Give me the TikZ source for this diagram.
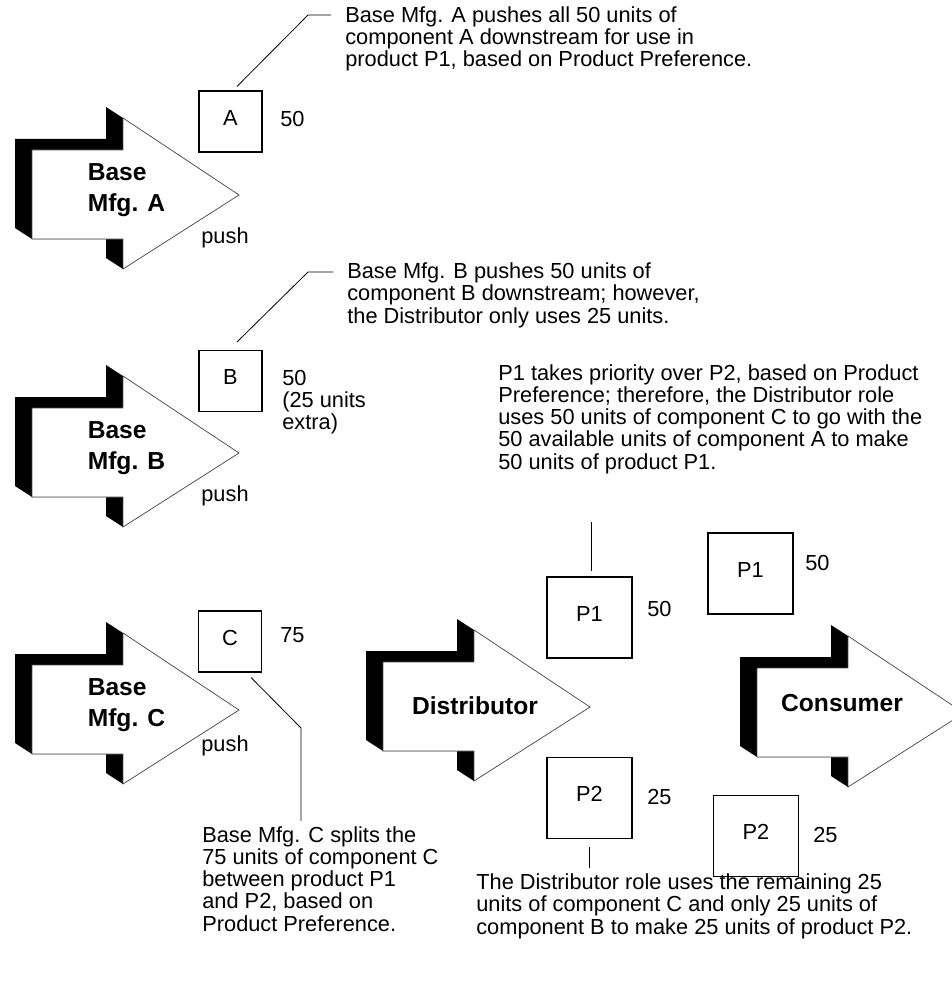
\documentclass[tikz,border=0pt]{standalone}
\usepackage{fontspec}
\setmainfont{Liberation Sans}
\usetikzlibrary{calc,positioning}

\tikzset{
  % block arrow with a solid black extrusion to the upper left
  role/.pic={
    \fill[black] (0,89) -- (-17,78) -- (-17,-11) -- (74,-11) -- (74,-43)
      -- (91,-32) -- (207,45) -- (91,119) -- (74,108) -- (74,89) -- cycle;
    \filldraw[fill=white, draw=black!70, line width=0.4pt]
      (0,0) -- (91,0) -- (91,-32) -- (207,45) -- (91,119) -- (91,89) -- (0,89) -- cycle;
  },
  % text depth lifts the label a little above the middle
  item/.style={draw, line width=0.6pt, minimum width=1.26cm, minimum height=1.22cm, inner sep=0pt, text depth=0.15cm},
  bigitem/.style={item, minimum width=1.7cm, minimum height=1.62cm},
  rolename/.style={font=\fontsize{14}{17.6}\selectfont\bfseries, align=left, inner sep=0pt},
  qty/.style={anchor=west, align=left, inner sep=0pt},
  % base west sits on the baseline of the last line
  note/.style={anchor=base west, align=left, inner xsep=0.28cm, inner ysep=0.1cm},
  leader/.style={draw=black, line width=0.45pt},
}

\begin{document}
\begin{tikzpicture}[x=0.02cm, y=-0.02cm, font=\fontsize{12.4}{12.65}\selectfont]
\useasboundingbox (0,0) rectangle (951,983);

% the five roles
\pic at (32,150) {role};
\pic at (32,408) {role};
\pic at (32,665) {role};
\pic at (383,662) {role};
\pic at (757,668) {role};

\node[rolename] (nameA) at (126.5,190) {Base\\Mfg. A};
\node[rolename] (nameB) at (126.5,448) {Base\\Mfg. B};
\node[rolename] (nameC) at (126.5,705) {Base\\Mfg. C};
\node[rolename] (nameDist) at (475,706) {Distributor};
\node[rolename] (nameCons) at (842,703) {Consumer};

\node (pushA) at (225,238) {push};
\node (pushB) at (225,496) {push};
\node (pushC) at (225,746) {push};

% components and products
\node[item] (boxA) at (230.5,121.5) {A};
\node[item] (boxB) at (230.5,381) {B};
\node[item] (boxC) at (230,641.5) {C};
\node[bigitem] (distP1) at (589.5,617.5) {P1};
\node[bigitem] (distP2) at (589.5,798) {P2};
\node[bigitem] (consP1) at (750.5,573.5) {P1};
\node[bigitem] (consP2) at (756,836) {P2};

\node[qty] (qtyA) at (280,119) {50};
\node[qty] (qtyB) at (282,402) {50\\(25 units\\extra)};
\node[qty] (qtyC) at (280,635) {75};
\node[qty] (qtyDP1) at (647,609) {50};
\node[qty] (qtyDP2) at (647,797) {25};
\node[qty] (qtyCP1) at (805,563) {50};
\node[qty] (qtyCP2) at (813,835) {25};

% callouts
\node[note] (noteA) at (331,67) {Base Mfg. A pushes all 50 units of\\component A downstream for use in\\product P1, based on Product Preference.};
\node[note] (noteB) at (333,323) {Base Mfg. B pushes 50 units of\\component B downstream; however,\\the Distributor only uses 25 units.};
\node[note] (noteP1) at (484,469) {P1 takes priority over P2, based on Product\\Preference; therefore, the Distributor role\\uses 50 units of component C to go with the\\50 available units of component A to make\\50 units of product P1.};
\node[note] (noteC) at (188,931) {Base Mfg. C splits the\\75 units of component C\\between product P1\\and P2, based on\\Product Preference.};
\node[note] (noteDist) at (462,934) {The Distributor role uses the remaining 25\\units of component C and only 25 units of\\component B to make 25 units of product P2.};

\coordinate (kneeA) at (308,15);
\coordinate (kneeB) at (308,272);
\coordinate (kneeC) at (301,728);
\coordinate (tipP1) at (591,522);
\draw[leader] ($(boxA.north)+(6.5,-4)$) -- (kneeA) -- (kneeA -| noteA.west);
\draw[leader] ($(boxB.north)+(6.5,-8)$) -- (kneeB) -- (kneeB -| noteB.west);
\draw[leader] ($(boxC.south east)+(-11,5)$) -- (kneeC) -- (kneeC |- noteC.north);
\draw[leader, shorten >=0.1cm] (tipP1) -- (tipP1 |- distP1.north);
\draw[leader, shorten <=0.16cm] (distP2.south) -- (distP2.south |- noteDist.north);
\end{tikzpicture}
\end{document}
